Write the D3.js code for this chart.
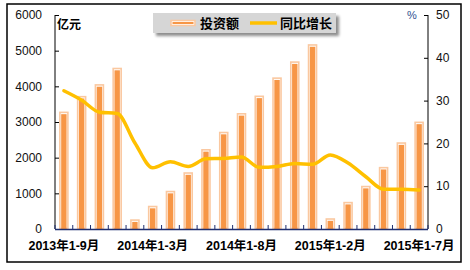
<!DOCTYPE html>
<html>
<head>
<meta charset="utf-8">
<script src="https://cdn.jsdelivr.net/npm/d3@7"></script>
<style>
  body { margin: 0; background: #fff; }
  svg text { font-family: "Liberation Sans", Arial, "Noto Sans CJK SC", sans-serif; }
</style>
</head>
<body>
<svg id="chart" width="470" height="270"></svg>
<script>
var categories = ['2013年1-9月','2013年1-10月','2013年1-11月','2013年1-12月',
  '2014年1-2月','2014年1-3月','2014年1-4月','2014年1-5月','2014年1-6月','2014年1-7月',
  '2014年1-8月','2014年1-9月','2014年1-10月','2014年1-11月','2014年1-12月',
  '2015年1-2月','2015年1-3月','2015年1-4月','2015年1-5月','2015年1-6月','2015年1-7月'];
var investment = [3270, 3710, 4040, 4500, 250, 630, 1050, 1570, 2220, 2705,
  3230, 3720, 4230, 4680, 5160, 280, 740, 1190, 1720, 2410, 2990];
var growth = [32.3, 30.1, 27.3, 27.0, 20.1, 14.3, 15.7, 14.6, 16.4, 16.5,
  16.8, 14.4, 14.6, 15.3, 15.1, 17.3, 15.4, 12.2, 9.3, 9.3, 9.1];
var leftTicks = [0, 1000, 2000, 3000, 4000, 5000, 6000];
var rightTicks = [0, 10, 20, 30, 40, 50];
var seriesNames = ['投资额', '同比增长'];

(function () {
var svg = d3.select('#chart');
var pl = 55, pr = 428, pt = 15, pb = 229;

// outer frame
svg.append('rect')
  .attr('x', 7).attr('y', 4).attr('width', 454).attr('height', 258)
  .attr('fill', '#fff').attr('stroke', '#000').attr('stroke-width', 1.5);

var x = d3.scaleBand().domain(categories).range([pl, pr]).padding(0);
var yL = d3.scaleLinear().domain([0, 6000]).range([pb, pt]);
var yR = d3.scaleLinear().domain([0, 50]).range([pb, pt]);

// bars
var bars = svg.append('g').selectAll('g')
  .data(investment)
  .join('g')
  .attr('transform', (d, i) => 'translate(' + (x(categories[i]) + x.bandwidth() / 2) + ',0)');

bars.append('rect')
  .attr('x', -4).attr('width', 8)
  .attr('y', d => yL(d))
  .attr('height', d => pb - yL(d) - 0.5)
  .attr('fill', '#fff')
  .attr('stroke', '#FAC8A0')
  .attr('stroke-width', 1.6);

bars.append('rect')
  .attr('x', -2.7).attr('width', 5.4)
  .attr('y', d => yL(d) + 1.8)
  .attr('height', d => Math.max(0, pb - yL(d) - 1.8))
  .attr('fill', '#F79646');

// growth line
var line = d3.line()
  .x((d, i) => x(categories[i]) + x.bandwidth() / 2)
  .y(d => yR(d))
  .curve(d3.curveMonotoneX);

svg.append('path')
  .datum(growth)
  .attr('d', line)
  .attr('fill', 'none')
  .attr('stroke', '#FFC000')
  .attr('stroke-width', 3.5)
  .attr('stroke-linecap', 'round');

// left axis
var axL = svg.append('g').attr('transform', 'translate(' + pl + ',0)')
  .call(d3.axisRight(yL).tickValues(leftTicks).tickSize(4).tickFormat(''));
axL.select('.domain').attr('stroke', '#000').attr('d', 'M0,' + pt + 'V' + pb);
axL.selectAll('line').attr('stroke', '#000');
svg.append('g').selectAll('text')
  .data(leftTicks)
  .join('text')
  .attr('x', 42).attr('y', d => yL(d))
  .attr('dy', '0.35em')
  .attr('text-anchor', 'end')
  .attr('font-size', 12)
  .attr('fill', '#111')
  .text(d => d);

// right axis
var axR = svg.append('g').attr('transform', 'translate(' + pr + ',0)')
  .call(d3.axisLeft(yR).tickValues(rightTicks).tickSize(4).tickFormat(''));
axR.select('.domain').attr('stroke', '#000').attr('d', 'M0,' + pt + 'V' + pb);
axR.selectAll('line').attr('stroke', '#000');
svg.append('g').selectAll('text')
  .data(rightTicks)
  .join('text')
  .attr('x', 436).attr('y', d => yR(d))
  .attr('dy', '0.35em')
  .attr('font-size', 12)
  .attr('fill', '#111')
  .text(d => d);

// bottom axis with ticks between categories
var bounds = categories.map(c => x(c)).concat([pr]);
svg.append('g').selectAll('line')
  .data(bounds)
  .join('line')
  .attr('x1', d => d).attr('x2', d => d)
  .attr('y1', pb - 4).attr('y2', pb)
  .attr('stroke', '#1F2F6F');
svg.append('line')
  .attr('x1', pl).attr('x2', pr)
  .attr('y1', pb + 0.5).attr('y2', pb + 0.5)
  .attr('stroke', '#1F2F6F').attr('stroke-width', 1.5);

svg.append('g').selectAll('text')
  .data(categories.filter((c, i) => i % 5 === 0))
  .join('text')
  .attr('x', d => x(d) + x.bandwidth() / 2)
  .attr('y', 250)
  .attr('text-anchor', 'middle')
  .attr('font-size', 12.5)
  .attr('font-weight', 'bold')
  .attr('fill', '#000')
  .text(d => d);

// unit labels
svg.append('text')
  .attr('x', 57).attr('y', 29)
  .attr('font-size', 12).attr('font-weight', 'bold')
  .text('亿元');
svg.append('text')
  .attr('x', 407).attr('y', 19)
  .attr('font-size', 11).attr('fill', '#2F4F8F')
  .text('%');

// legend
var defs = svg.append('defs');
var f = defs.append('filter').attr('id', 'shadow').attr('x', '-10%').attr('y', '-30%').attr('width', '130%').attr('height', '180%');
f.append('feGaussianBlur').attr('in', 'SourceAlpha').attr('stdDeviation', 1.5);
f.append('feOffset').attr('dx', 3).attr('dy', 3).attr('result', 'b');
f.append('feComponentTransfer').append('feFuncA').attr('type', 'linear').attr('slope', 0.45);
var m = f.append('feMerge');
m.append('feMergeNode');
m.append('feMergeNode').attr('in', 'SourceGraphic');

var lg = svg.append('g');
lg.append('rect')
  .attr('x', 153).attr('y', 13).attr('width', 183).attr('height', 20)
  .attr('fill', '#D6D6D6')
  .attr('filter', 'url(#shadow)');

lg.append('rect')
  .attr('x', 171).attr('y', 20.5).attr('width', 24).attr('height', 5)
  .attr('fill', '#fff').attr('stroke', '#FAC8A0').attr('stroke-width', 1.6);
lg.append('rect')
  .attr('x', 172.5).attr('y', 22).attr('width', 21).attr('height', 2)
  .attr('fill', '#F79646');
lg.append('text')
  .attr('x', 200).attr('y', 28)
  .attr('font-size', 13).attr('font-weight', 'bold')
  .text(seriesNames[0]);

lg.append('line')
  .attr('x1', 250).attr('x2', 277).attr('y1', 23).attr('y2', 23)
  .attr('stroke', '#FFC000').attr('stroke-width', 3.5);
lg.append('text')
  .attr('x', 280).attr('y', 28)
  .attr('font-size', 13).attr('font-weight', 'bold')
  .text(seriesNames[1]);
})();
</script>
</body>
</html>
